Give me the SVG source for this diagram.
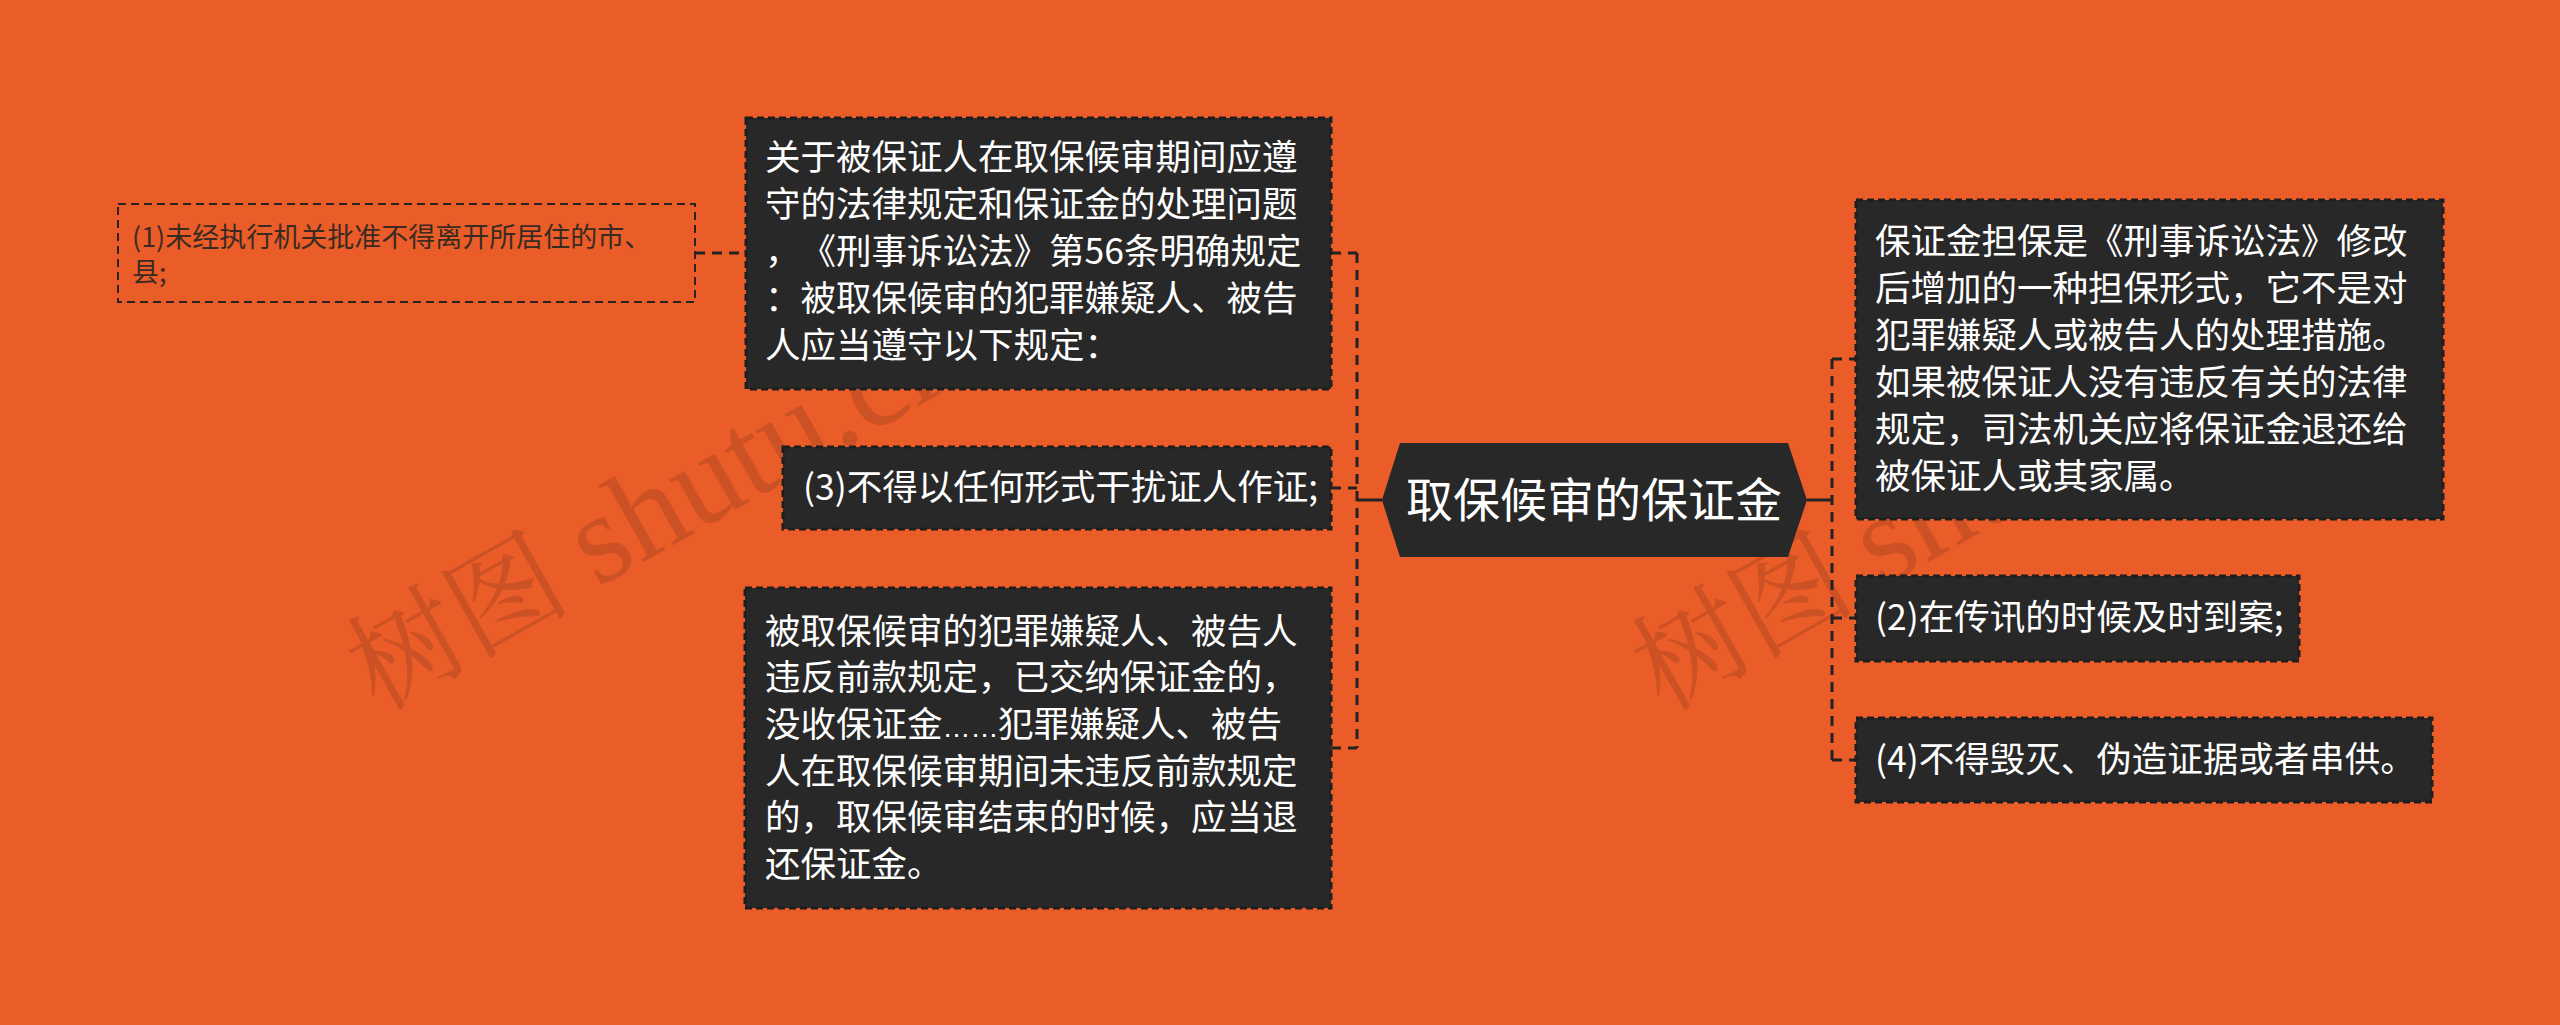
<svg xmlns="http://www.w3.org/2000/svg" width="2560" height="1025" viewBox="0 0 2560 1025">
<style>
.bg{fill:#EA5C28}
.wm{font-family:"Liberation Serif","Noto Serif CJK SC","Noto Sans CJK SC",serif;font-size:112px;fill:#9a3f22;fill-opacity:0.38}
.wl{font-size:128px}
.box{fill:#282828;stroke:#1e1e1e;stroke-width:3;stroke-dasharray:7 4}
.lbox{fill:none;stroke:#2a2420;stroke-width:2;stroke-dasharray:8 5}
.t{font-family:"Noto Sans CJK SC","Noto Sans",sans-serif;font-size:35.5px;fill:#ffffff;text-spacing-trim:space-all}
.ts{font-family:"Noto Sans CJK SC","Noto Sans",sans-serif;font-size:27px;fill:#3a2b22;text-spacing-trim:space-all}
.tc{font-family:"Noto Sans CJK SC","Noto Sans",sans-serif;font-size:47px;fill:#ffffff;text-anchor:middle}
.dots{font-family:"Liberation Sans",sans-serif;font-size:28px}
.cn{fill:none;stroke:#222222;stroke-width:3}
.dash{stroke-dasharray:10 7}
</style>
<rect class="bg" x="0" y="0" width="2560" height="1025"/>
<g id="watermarks">
<text class="wm" transform="translate(378,712) rotate(-29.5)">树图 <tspan class="wl">shutu.cn</tspan></text>
<text class="wm" transform="translate(1663,712) rotate(-29.5)">树图 <tspan class="wl">shutu.cn</tspan></text>
</g>
<g id="connectors">
<path class="cn" d="M1382,500 H1357"/>
<path class="cn dash" d="M1357,253 V748"/>
<path class="cn dash" d="M1331,253 H1357 M1331,488 H1357 M1331,748 H1357"/>
<path class="cn dash" d="M695,253 H746"/>
<path class="cn" d="M1807,500 H1832"/>
<path class="cn dash" d="M1832,359 V760"/>
<path class="cn dash" d="M1832,359 H1856 M1832,618 H1856 M1832,760 H1856"/>
</g>
<g id="node-center">
<polygon points="1400,443 1788,443 1807,500 1788,557 1400,557 1382,500" fill="#282828"/>
<text class="tc" x="1594" y="517">取保候审的保证金</text>
</g>
<g id="node-left-1">
<rect class="box" x="746" y="118" width="585" height="271"/>
<text class="t" x="765" y="170">关于被保证人在取保候审期间应遵</text>
<text class="t" x="765" y="217">守的法律规定和保证金的处理问题</text>
<text class="t" x="765" y="264">，《刑事诉讼法》第56条明确规定</text>
<text class="t" x="765" y="311">：被取保候审的犯罪嫌疑人、被告</text>
<text class="t" x="765" y="358">人应当遵守以下规定：</text>
</g>
<g id="node-left-1-1">
<rect class="lbox" x="118" y="204" width="577" height="98"/>
<text class="ts" x="132" y="247">(1)未经执行机关批准不得离开所居住的市、</text>
<text class="ts" x="132" y="282">县;</text>
</g>
<g id="node-left-2">
<rect class="box" x="783" y="447" width="548" height="82"/>
<text class="t" x="803" y="500">(3)不得以任何形式干扰证人作证;</text>
</g>
<g id="node-left-3">
<rect class="box" x="745" y="588" width="586" height="320"/>
<text class="t" x="765" y="643.5">被取保候审的犯罪嫌疑人、被告人</text>
<text class="t" x="765" y="690.2">违反前款规定，已交纳保证金的，</text>
<text class="t" x="765" y="736.9">没收保证金<tspan class="dots">……</tspan><tspan x="998">犯罪嫌疑人、被告</tspan></text>
<text class="t" x="765" y="783.6">人在取保候审期间未违反前款规定</text>
<text class="t" x="765" y="830.3">的，取保候审结束的时候，应当退</text>
<text class="t" x="765" y="877">还保证金。</text>
</g>
<g id="node-right-1">
<rect class="box" x="1856" y="200" width="587" height="319"/>
<text class="t" x="1875" y="254">保证金担保是《刑事诉讼法》修改</text>
<text class="t" x="1875" y="301">后增加的一种担保形式，它不是对</text>
<text class="t" x="1875" y="348">犯罪嫌疑人或被告人的处理措施。</text>
<text class="t" x="1875" y="395">如果被保证人没有违反有关的法律</text>
<text class="t" x="1875" y="442">规定，司法机关应将保证金退还给</text>
<text class="t" x="1875" y="489">被保证人或其家属。</text>
</g>
<g id="node-right-2">
<rect class="box" x="1856" y="576" width="443" height="85"/>
<text class="t" x="1875" y="630">(2)在传讯的时候及时到案;</text>
</g>
<g id="node-right-3">
<rect class="box" x="1856" y="718" width="576" height="84"/>
<text class="t" x="1875" y="772">(4)不得毁灭、伪造证据或者串供。</text>
</g>
</svg>
